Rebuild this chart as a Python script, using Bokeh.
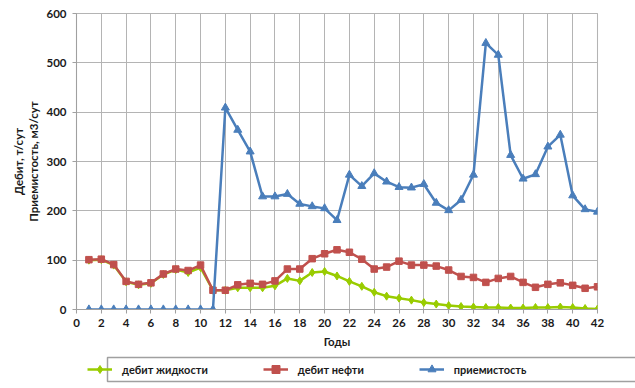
from bokeh.plotting import figure
from bokeh.layouts import column
from bokeh.models import (Range1d, FixedTicker, Legend, LegendItem,
                          BoxAnnotation, LinearAxis)
from bokeh.embed import file_html
from bokeh.resources import INLINE

# ---- data ----
years = list(range(1, 43))
liquid = [100, 101, 90, 56, 50, 53, 71, 81, 75, 85, 39, 39, 44, 44, 44, 48,
          63, 58, 75, 77, 68, 57, 47, 35, 27, 23, 19, 14, 11, 8, 6, 5, 4, 4,
          3, 3, 4, 4, 5, 4, 2, 1]
oil = [101, 102, 91, 57, 51, 54, 72, 82, 79, 90, 39, 39, 50, 53, 51, 58,
       82, 82, 103, 113, 121, 116, 102, 82, 86, 98, 90, 90, 88, 80, 67, 65,
       55, 63, 67, 55, 45, 51, 54, 49, 43, 46]
injectivity = [0, 0, 0, 0, 0, 0, 0, 0, 0, 0, 0, 409, 364, 320, 229, 229,
               234, 214, 209, 205, 181, 273, 250, 276, 259, 248, 247, 254,
               216, 201, 222, 273, 540, 516, 313, 265, 274, 330, 354, 231,
               203, 198]
series_names = ["дебит жидкости", "дебит нефти", "приемистость"]
x_ticks = list(range(0, 43, 2))
y_ticks = [0, 100, 200, 300, 400, 500, 600]
x_title = "Годы"
y_title_outer = "Дебит, т/сут"
y_title_inner = "Приемистость, м3/сут"

FONT = "Lato"
TXT = "#1a1a1a"
GRID = "#b4b4b4"
AXIS = "#a0a0a0"
LW = 1.05
C_GREEN = "#99CC00"
C_RED = "#C0504D"
C_BLUE = "#4A7EBB"
series = [(liquid, "diamond", 8, C_GREEN),
          (oil, "square", 6.5, C_RED),
          (injectivity, "triangle", 8, C_BLUE)]

# ---------------- main chart ----------------
p = figure(frame_width=521, frame_height=296, output_backend="svg",
           toolbar_location=None, x_range=Range1d(0, 42),
           y_range=Range1d(0, 600),
           min_border_left=76, min_border_right=38,
           min_border_top=13, min_border_bottom=42)
p.outline_line_color = GRID
p.outline_line_width = LW
p.outline_line_alpha = 1

xa = p.xaxis[0]
ya = p.yaxis[0]
for ax in (xa, ya):
    ax.axis_line_color = AXIS
    ax.axis_line_width = LW
    ax.major_tick_line_color = AXIS
    ax.major_tick_line_width = LW
    ax.major_tick_out = 4
    ax.major_tick_in = 0
    ax.minor_tick_line_color = None
    ax.major_label_text_font = FONT
    ax.major_label_text_font_style = "bold"
    ax.major_label_text_font_size = "11.5px"
    ax.major_label_text_color = TXT
    ax.axis_label_text_font = FONT
    ax.axis_label_text_font_style = "bold"
    ax.axis_label_text_font_size = "11.5px"
    ax.axis_label_text_color = TXT
xa.ticker = FixedTicker(ticks=x_ticks)
ya.ticker = FixedTicker(ticks=y_ticks)
xa.major_label_standoff = 5
ya.major_label_standoff = 6
xa.axis_label = x_title
xa.axis_label_standoff = 5
ya.axis_label = y_title_inner
ya.axis_label_standoff = 3

outer = LinearAxis(ticker=FixedTicker(ticks=[]), axis_line_color=None,
                   major_tick_line_color=None, minor_tick_line_color=None,
                   axis_label=y_title_outer, axis_label_standoff=0,
                   axis_label_text_font=FONT, axis_label_text_font_style="bold",
                   axis_label_text_font_size="11.5px",
                   axis_label_text_color=TXT)
p.add_layout(outer, "left")

for g in (p.xgrid[0], p.ygrid[0]):
    g.grid_line_color = GRID
    g.grid_line_width = LW
    g.grid_line_alpha = 1

for vals, mk, sz, col in series:
    p.line(years, vals, line_color=col, line_width=2.5)
    p.scatter(years, vals, marker=mk, size=sz, fill_color=col,
              line_color=col)

# ---------------- legend strip ----------------
q = figure(frame_width=635, frame_height=37, output_backend="svg",
           toolbar_location=None, x_axis_location=None, y_axis_location=None,
           x_range=Range1d(0, 42), y_range=Range1d(1000, 1100),
           min_border_left=0, min_border_right=0, min_border_top=0,
           min_border_bottom=0)
q.outline_line_color = None
q.xgrid.visible = False
q.ygrid.visible = False

items = []
for name, (vals, mk, sz, col) in zip(series_names, series):
    lr = q.line(years, vals, line_color=col, line_width=2.5)
    sr = q.scatter(years, vals, marker=mk, size=sz, fill_color=col,
                   line_color=col)
    items.append(LegendItem(label=name, renderers=[lr, sr]))

q.add_layout(BoxAnnotation(left=31, right=577, top=31, bottom=7,
                           left_units="screen", right_units="screen",
                           top_units="screen", bottom_units="screen",
                           fill_alpha=0, line_color=AXIS, line_alpha=1,
                           line_width=1.5))
legend = Legend(items=items, orientation="horizontal", location=(87, 9),
                spacing=55, glyph_width=25, label_standoff=10, padding=0,
                margin=0, border_line_alpha=0, background_fill_alpha=0,
                label_text_font=FONT, label_text_font_style="bold",
                label_text_font_size="11px", label_text_color=TXT)
q.add_layout(legend)

layout = column(p, q, spacing=0)
open("out.html", "w").write(file_html(layout, INLINE))
